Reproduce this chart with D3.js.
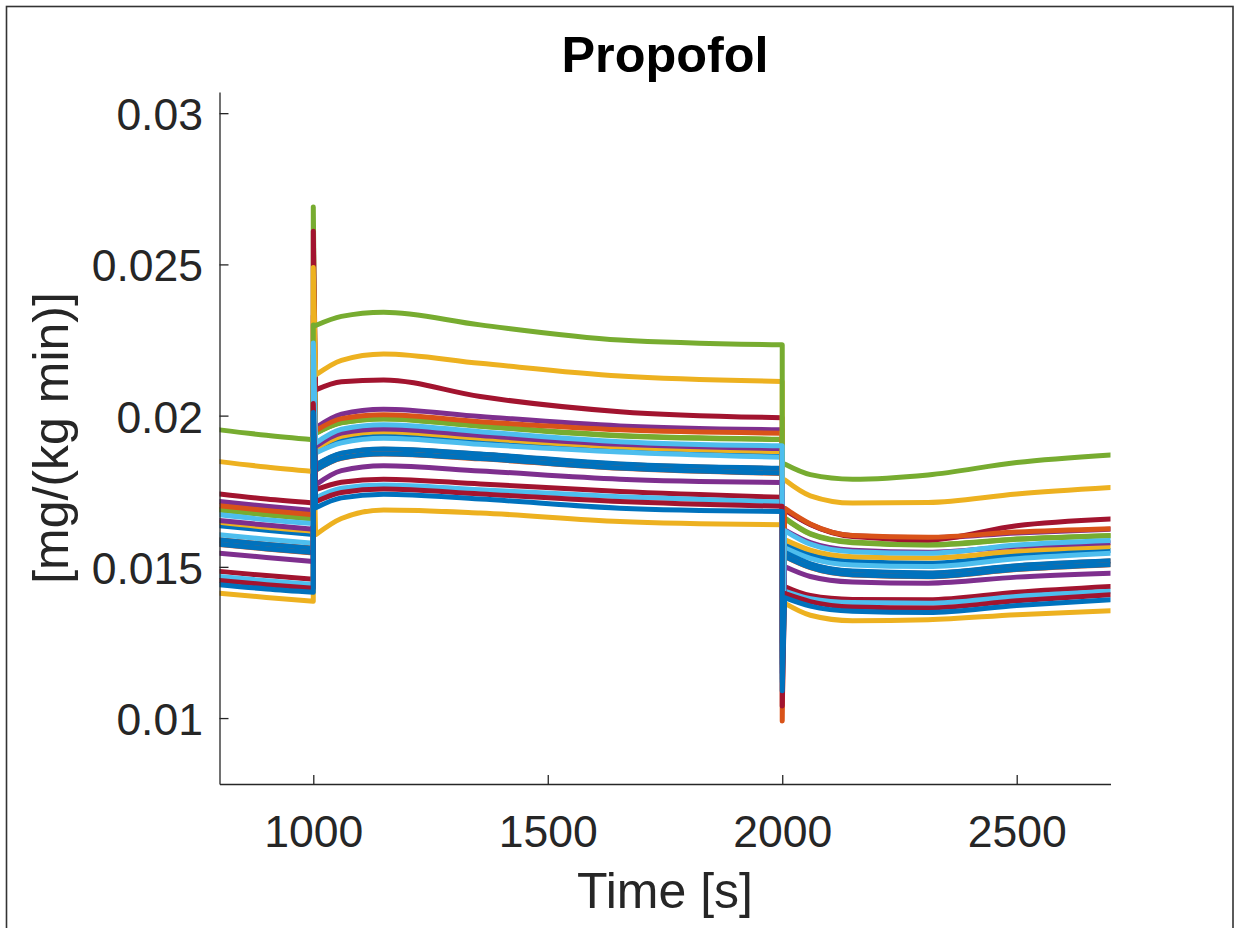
<!DOCTYPE html>
<html>
<head>
<meta charset="utf-8">
<script src="https://cdn.jsdelivr.net/npm/d3@7/dist/d3.min.js"></script>
<style>
  html, body { margin: 0; padding: 0; background: #ffffff; }
  svg { display: block; }
  text { font-family: "Liberation Sans", Arial, Helvetica, sans-serif; }
</style>
</head>
<body>
<svg id="chart" width="1235" height="928"></svg>
<script>
// ---------------- data ----------------
const titleText = "Propofol";
const xLabelText = "Time [s]";
const yLabelText = "[mg/(kg min)]";

const xDomain = [800, 2700];
const yDomain = [0.00782, 0.0307];
const xTicks = [1000, 1500, 2000, 2500];
const yTicks = [0.01, 0.015, 0.02, 0.025, 0.03];
const yTickLabels = ["0.01", "0.015", "0.02", "0.025", "0.03"];

// MATLAB default color order (series cycle through it)
const palette = ["#0072BD", "#D95319", "#EDB120", "#7E2F8E", "#77AC30", "#4DBEEE", "#A2142F"];

// sample times of the three phases and of the two step changes
const times1 = [800, 900, 1000];
const times2 = [1005, 1060, 1150, 1356, 1654, 2000];
const times3 = [2005, 2060, 2150, 2311, 2500, 2700];
const spikeTimes = [1000, 2000];

// phase 1 values (t = 800, 900, 1000), one row per series in drawing order
const phase1 = [
  [0.01636, 0.01621, 0.01607],
  [0.01590, 0.01575, 0.01562],
  [0.01647, 0.01631, 0.01618],
  [0.01716, 0.01700, 0.01686],
  [0.01688, 0.01672, 0.01658],
  [0.01606, 0.01591, 0.01578],
  [0.01485, 0.01471, 0.01459],
  [0.01589, 0.01574, 0.01561],
  [0.01574, 0.01559, 0.01546],
  [0.01413, 0.01399, 0.01386],
  [0.01653, 0.01638, 0.01624],
  [0.01689, 0.01673, 0.01659],
  [0.01468, 0.01454, 0.01442],
  [0.01741, 0.01724, 0.01711],
  [0.01575, 0.01560, 0.01547],
  [0.01702, 0.01686, 0.01672],
  [0.01848, 0.01830, 0.01815],
  [0.01545, 0.01531, 0.01518],
  [0.01953, 0.01935, 0.01920],
  [0.01672, 0.01656, 0.01643],
  [0.01455, 0.01441, 0.01429],
  [0.01441, 0.01427, 0.01416]
];

// peak of the upward spike at t = 1000
const spikeUp = [0.0208, 0.0207, 0.0212, 0.0215, 0.0220, 0.0206, 0.0200, 0.0205, 0.0203, 0.0195, 0.0210,
                 0.0269, 0.0201, 0.0261, 0.0203, 0.0233, 0.0249, 0.0200, 0.0230, 0.0224, 0.0204, 0.0201];

// phase 2 values (t = 1005, 1060, 1150, 1356, 1654, 2000)
const phase2 = [
  [0.01880, 0.01918, 0.01932, 0.01912, 0.01889, 0.01870],
  [0.01836, 0.01875, 0.01889, 0.01872, 0.01839, 0.01825],
  [0.01890, 0.01932, 0.01947, 0.01925, 0.01896, 0.01881],
  [0.01960, 0.02005, 0.02021, 0.01997, 0.01966, 0.01953],
  [0.01941, 0.01976, 0.01989, 0.01965, 0.01933, 0.01921],
  [0.01876, 0.01910, 0.01925, 0.01905, 0.01880, 0.01862],
  [0.01755, 0.01780, 0.01790, 0.01774, 0.01749, 0.01730],
  [0.01837, 0.01876, 0.01890, 0.01873, 0.01840, 0.01826],
  [0.01819, 0.01859, 0.01873, 0.01857, 0.01826, 0.01809],
  [0.01606, 0.01660, 0.01688, 0.01678, 0.01650, 0.01639],
  [0.01898, 0.01942, 0.01956, 0.01934, 0.01905, 0.01891],
  [0.01942, 0.01977, 0.01990, 0.01966, 0.01934, 0.01922],
  [0.01728, 0.01760, 0.01771, 0.01755, 0.01732, 0.01714],
  [0.02085, 0.02112, 0.02118, 0.02063, 0.02013, 0.01993],
  [0.01820, 0.01860, 0.01874, 0.01858, 0.01827, 0.01810],
  [0.01950, 0.01990, 0.02003, 0.01980, 0.01953, 0.01942],
  [0.02134, 0.02183, 0.02204, 0.02173, 0.02131, 0.02113],
  [0.01771, 0.01818, 0.01834, 0.01817, 0.01790, 0.01779],
  [0.02298, 0.02328, 0.02342, 0.02300, 0.02250, 0.02234],
  [0.01909, 0.01955, 0.01970, 0.01947, 0.01914, 0.01900],
  [0.01715, 0.01746, 0.01757, 0.01741, 0.01716, 0.01700],
  [0.01695, 0.01728, 0.01740, 0.01724, 0.01694, 0.01683]
];

// bottom of the downward spike at t = 2000
const spikeDown = [0.0132, 0.0135, 0.0138, 0.0130, 0.0135, 0.0127, 0.0120, 0.0122, 0.0124, 0.0117, 0.0140,
                   0.0128, 0.0113, 0.0125, 0.0118, 0.0099, 0.0178, 0.0115, 0.0184, 0.0112, 0.0104, 0.0109];

// phase 3 values (t = 2005, 2060, 2150, 2311, 2500, 2700)
const phase3 = [
  [0.01575, 0.01540, 0.01518, 0.01512, 0.01538, 0.01554],
  [0.01547, 0.01509, 0.01485, 0.01479, 0.01503, 0.01519],
  [0.01590, 0.01555, 0.01533, 0.01529, 0.01552, 0.01567],
  [0.01688, 0.01640, 0.01603, 0.01596, 0.01612, 0.01624],
  [0.01660, 0.01608, 0.01580, 0.01572, 0.01591, 0.01603],
  [0.01563, 0.01528, 0.01506, 0.01501, 0.01527, 0.01545],
  [0.01435, 0.01405, 0.01392, 0.01391, 0.01416, 0.01435],
  [0.01548, 0.01510, 0.01486, 0.01480, 0.01504, 0.01520],
  [0.01534, 0.01497, 0.01473, 0.01467, 0.01491, 0.01507],
  [0.01380, 0.01340, 0.01322, 0.01325, 0.01342, 0.01355],
  [0.01622, 0.01580, 0.01555, 0.01548, 0.01568, 0.01580],
  [0.01662, 0.01610, 0.01582, 0.01573, 0.01592, 0.01604],
  [0.01420, 0.01395, 0.01382, 0.01380, 0.01402, 0.01419],
  [0.01690, 0.01640, 0.01600, 0.01589, 0.01636, 0.01658],
  [0.01535, 0.01498, 0.01474, 0.01468, 0.01492, 0.01508],
  [0.01694, 0.01642, 0.01604, 0.01598, 0.01615, 0.01626],
  [0.01788, 0.01735, 0.01711, 0.01713, 0.01741, 0.01762],
  [0.01501, 0.01468, 0.01450, 0.01446, 0.01466, 0.01479],
  [0.01840, 0.01805, 0.01790, 0.01804, 0.01845, 0.01870],
  [0.01620, 0.01575, 0.01550, 0.01545, 0.01572, 0.01587],
  [0.01412, 0.01385, 0.01367, 0.01364, 0.01388, 0.01408],
  [0.01398, 0.01370, 0.01353, 0.01349, 0.01372, 0.01391]
];

// ---------------- layout ----------------
const W = 1235, H = 928;
const plot = { left: 219.5, right: 1110.5, top: 92, bottom: 784 };
const axisColor = "#262626";
const tickFont = 44.5;
const labelFont = 50;
const titleFont = 50.4;

const svg = d3.select("#chart");

svg.append("rect").attr("width", W).attr("height", H).attr("fill", "#ffffff");
// figure frame
svg.append("rect")
  .attr("x", 6.5).attr("y", 6.5)
  .attr("width", 1226.5).attr("height", 940)
  .attr("fill", "none").attr("stroke", "#333333").attr("stroke-width", 1.6);

const x = d3.scaleLinear().domain(xDomain).range([plot.left, plot.right]);
const y = d3.scaleLinear().domain(yDomain).range([plot.bottom, plot.top]);

svg.append("defs").append("clipPath").attr("id", "plotclip")
  .append("rect")
  .attr("x", plot.left).attr("y", plot.top)
  .attr("width", plot.right - plot.left).attr("height", plot.bottom - plot.top);

// ---------------- lines ----------------
const lineGen = d3.line()
  .x(d => x(d[0]))
  .y(d => y(d[1]))
  .curve(d3.curveMonotoneX);

function seriesPath(i) {
  const p1 = times1.map((t, k) => [t, phase1[i][k]]);
  const p2 = times2.map((t, k) => [t, phase2[i][k]]);
  const p3 = times3.map((t, k) => [t, phase3[i][k]]);
  let d = lineGen(p1);
  d += "L" + x(spikeTimes[0]) + "," + y(spikeUp[i]);
  d += lineGen(p2).replace(/^M/, "L");
  d += "L" + x(spikeTimes[1]) + "," + y(spikeDown[i]);
  d += lineGen(p3).replace(/^M/, "L");
  return d;
}

const lineLayer = svg.append("g").attr("clip-path", "url(#plotclip)");
lineLayer.selectAll("path")
  .data(d3.range(phase1.length))
  .join("path")
  .attr("d", i => seriesPath(i))
  .attr("fill", "none")
  .attr("stroke", i => palette[i % palette.length])
  .attr("stroke-width", 5)
  .attr("stroke-linejoin", "round")
  .attr("stroke-linecap", "round");

// ---------------- axes ----------------
const yAxis = d3.axisLeft(y)
  .tickValues(yTicks)
  .tickFormat((d, i) => yTickLabels[i])
  .tickSize(-9)
  .tickSizeOuter(0)
  .tickPadding(16.5);

const gy = svg.append("g")
  .attr("transform", `translate(${plot.left},0)`)
  .call(yAxis);
gy.select(".domain").attr("stroke", axisColor).attr("stroke-width", 1.3);
gy.selectAll(".tick line").attr("stroke", axisColor).attr("stroke-width", 1.3);
gy.selectAll(".tick text")
  .attr("fill", axisColor)
  .attr("font-size", tickFont)
  .attr("font-family", '"Liberation Sans", Arial, Helvetica, sans-serif')
  .attr("dy", "0.37em");

const xAxis = d3.axisBottom(x)
  .tickValues(xTicks)
  .tickFormat(d3.format("d"))
  .tickSize(-9)
  .tickSizeOuter(0)
  .tickPadding(31);

const gx = svg.append("g")
  .attr("transform", `translate(0,${plot.bottom})`)
  .call(xAxis);
gx.select(".domain").attr("stroke", axisColor).attr("stroke-width", 1.3);
gx.selectAll(".tick line").attr("stroke", axisColor).attr("stroke-width", 1.3);
gx.selectAll(".tick text")
  .attr("fill", axisColor)
  .attr("font-size", tickFont)
  .attr("font-family", '"Liberation Sans", Arial, Helvetica, sans-serif')
  .attr("dy", "0.71em");

// ---------------- labels ----------------
const cx = (plot.left + plot.right) / 2;
const cy = (plot.top + plot.bottom) / 2;

svg.append("text")
  .attr("x", cx).attr("y", 72)
  .attr("text-anchor", "middle")
  .attr("font-size", titleFont)
  .attr("font-weight", "bold")
  .attr("fill", "#000000")
  .text(titleText);

svg.append("text")
  .attr("x", cx).attr("y", 908)
  .attr("text-anchor", "middle")
  .attr("font-size", labelFont)
  .attr("fill", axisColor)
  .text(xLabelText);

svg.append("text")
  .attr("transform", `translate(68,${cy}) rotate(-90)`)
  .attr("text-anchor", "middle")
  .attr("font-size", labelFont)
  .attr("fill", axisColor)
  .text(yLabelText);
</script>
</body>
</html>
